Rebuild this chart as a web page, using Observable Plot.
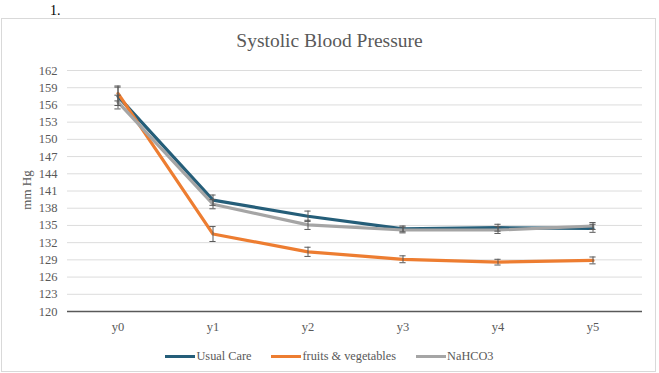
<!DOCTYPE html>
<html>
<head>
<meta charset="utf-8">
<script src="https://cdn.jsdelivr.net/npm/d3@7"></script>
<script src="https://cdn.jsdelivr.net/npm/@observablehq/plot@0.6"></script>
<style>
  html, body { margin: 0; padding: 0; background: #fff; }
  body { width: 659px; height: 373px; position: relative; overflow: hidden; font-family: "Liberation Serif", "Times New Roman", serif; }
  #num { position: absolute; left: 50px; top: 3px; font-size: 14px; color: #000; }
  #frame { position: absolute; left: 1px; top: 18px; width: 655px; height: 354px; border: 1px solid #d9d9d9; box-sizing: border-box; }
  #title { position: absolute; left: 0; width: 659px; top: 30px; text-align: center; font-size: 19.5px; color: #595959; }
  #ylabel { position: absolute; left: 27px; top: 190px; transform: translate(-50%, -50%) rotate(-90deg); font-size: 13px; color: #595959; white-space: nowrap; }
  #chart { position: absolute; left: 0; top: 60px; }
  #legend { position: absolute; left: 0; width: 659px; top: 349px; font-size: 12.3px; color: #595959; display: flex; justify-content: center; gap: 20px; }
  .item { display: flex; align-items: center; }
  .sw { display: inline-block; width: 30px; height: 3px; margin-right: 1px; }
</style>
</head>
<body>
<div id="num">1.</div>
<div id="frame"></div>
<div id="title">Systolic Blood Pressure</div>
<div id="ylabel">mm Hg</div>
<div id="chart"></div>
<div id="legend"></div>
<script>
const periods = ["y0", "y1", "y2", "y3", "y4", "y5"];
const seriesNames = ["Usual Care", "fruits & vegetables", "NaHCO3"];
const seriesColors = ["#255e79", "#ed7d31", "#a5a5a5"];
const usualCare = [157.5, 139.4, 136.6, 134.4, 134.6, 134.5];
const usualCareErr = [1.6, 0.9, 0.9, 0.5, 0.6, 0.7];
const fruitsVeg = [158.0, 133.5, 130.4, 129.1, 128.6, 128.9];
const fruitsVegErr = [1.3, 1.3, 0.8, 0.6, 0.5, 0.6];
const nahco3 = [156.5, 138.7, 135.1, 134.2, 134.2, 134.9];
const nahco3Err = [1.2, 0.8, 0.8, 0.5, 0.6, 0.6];
const yTicks = [120, 123, 126, 129, 132, 135, 138, 141, 144, 147, 150, 153, 156, 159, 162];

const valuesBySeries = [usualCare, fruitsVeg, nahco3];
const errBySeries = [usualCareErr, fruitsVegErr, nahco3Err];
const data = [];
seriesNames.forEach((s, k) => periods.forEach((p, i) => data.push({
  series: s, period: p, value: valuesBySeries[k][i], err: errBySeries[k][i]
})));
const drawOrder = ["Usual Care", "fruits & vegetables", "NaHCO3"];

const chart = Plot.plot({
  width: 659,
  height: 280,
  marginLeft: 67,
  marginRight: 17,
  marginTop: 10,
  marginBottom: 29,
  style: { fontFamily: "Liberation Serif, Times New Roman, serif", fontSize: "12.5px", color: "#595959", background: "transparent" },
  x: { type: "band", domain: periods, padding: 0, label: null },
  y: { domain: [120, 162], label: null },
  color: { domain: seriesNames, range: seriesColors },
  marks: [
    Plot.ruleY(yTicks.filter(t => t > 120), { stroke: "#dcdcdc", strokeWidth: 1 }),
    Plot.ruleY([120], { stroke: "#595959", strokeWidth: 1.5 }),
    Plot.axisY({ ticks: yTicks, tickSize: 0, tickPadding: 10, tickFormat: d => String(d), label: null }),
    Plot.axisX({ tickSize: 0, tickPadding: 11, label: null }),
    ...drawOrder.map(s => Plot.line(data.filter(d => d.series === s), {
      x: "period", y: "value", stroke: "series", strokeWidth: 3.2, strokeLinejoin: "round"
    })),
    Plot.ruleX(data, { x: "period", y1: d => d.value - d.err, y2: d => d.value + d.err, stroke: "#595959", strokeWidth: 1 }),
    Plot.tickY(data, { x: "period", y: d => d.value - d.err, stroke: "#595959", strokeWidth: 1, insetLeft: 44.4, insetRight: 44.4 }),
    Plot.tickY(data, { x: "period", y: d => d.value + d.err, stroke: "#595959", strokeWidth: 1, insetLeft: 44.4, insetRight: 44.4 })
  ]
});
document.getElementById("chart").appendChild(chart);

const legend = document.getElementById("legend");
seriesNames.forEach((s, k) => {
  const item = document.createElement("span");
  item.className = "item";
  const sw = document.createElement("span");
  sw.className = "sw";
  sw.style.background = seriesColors[k];
  item.appendChild(sw);
  item.appendChild(document.createTextNode(s));
  legend.appendChild(item);
});
</script>
</body>
</html>
